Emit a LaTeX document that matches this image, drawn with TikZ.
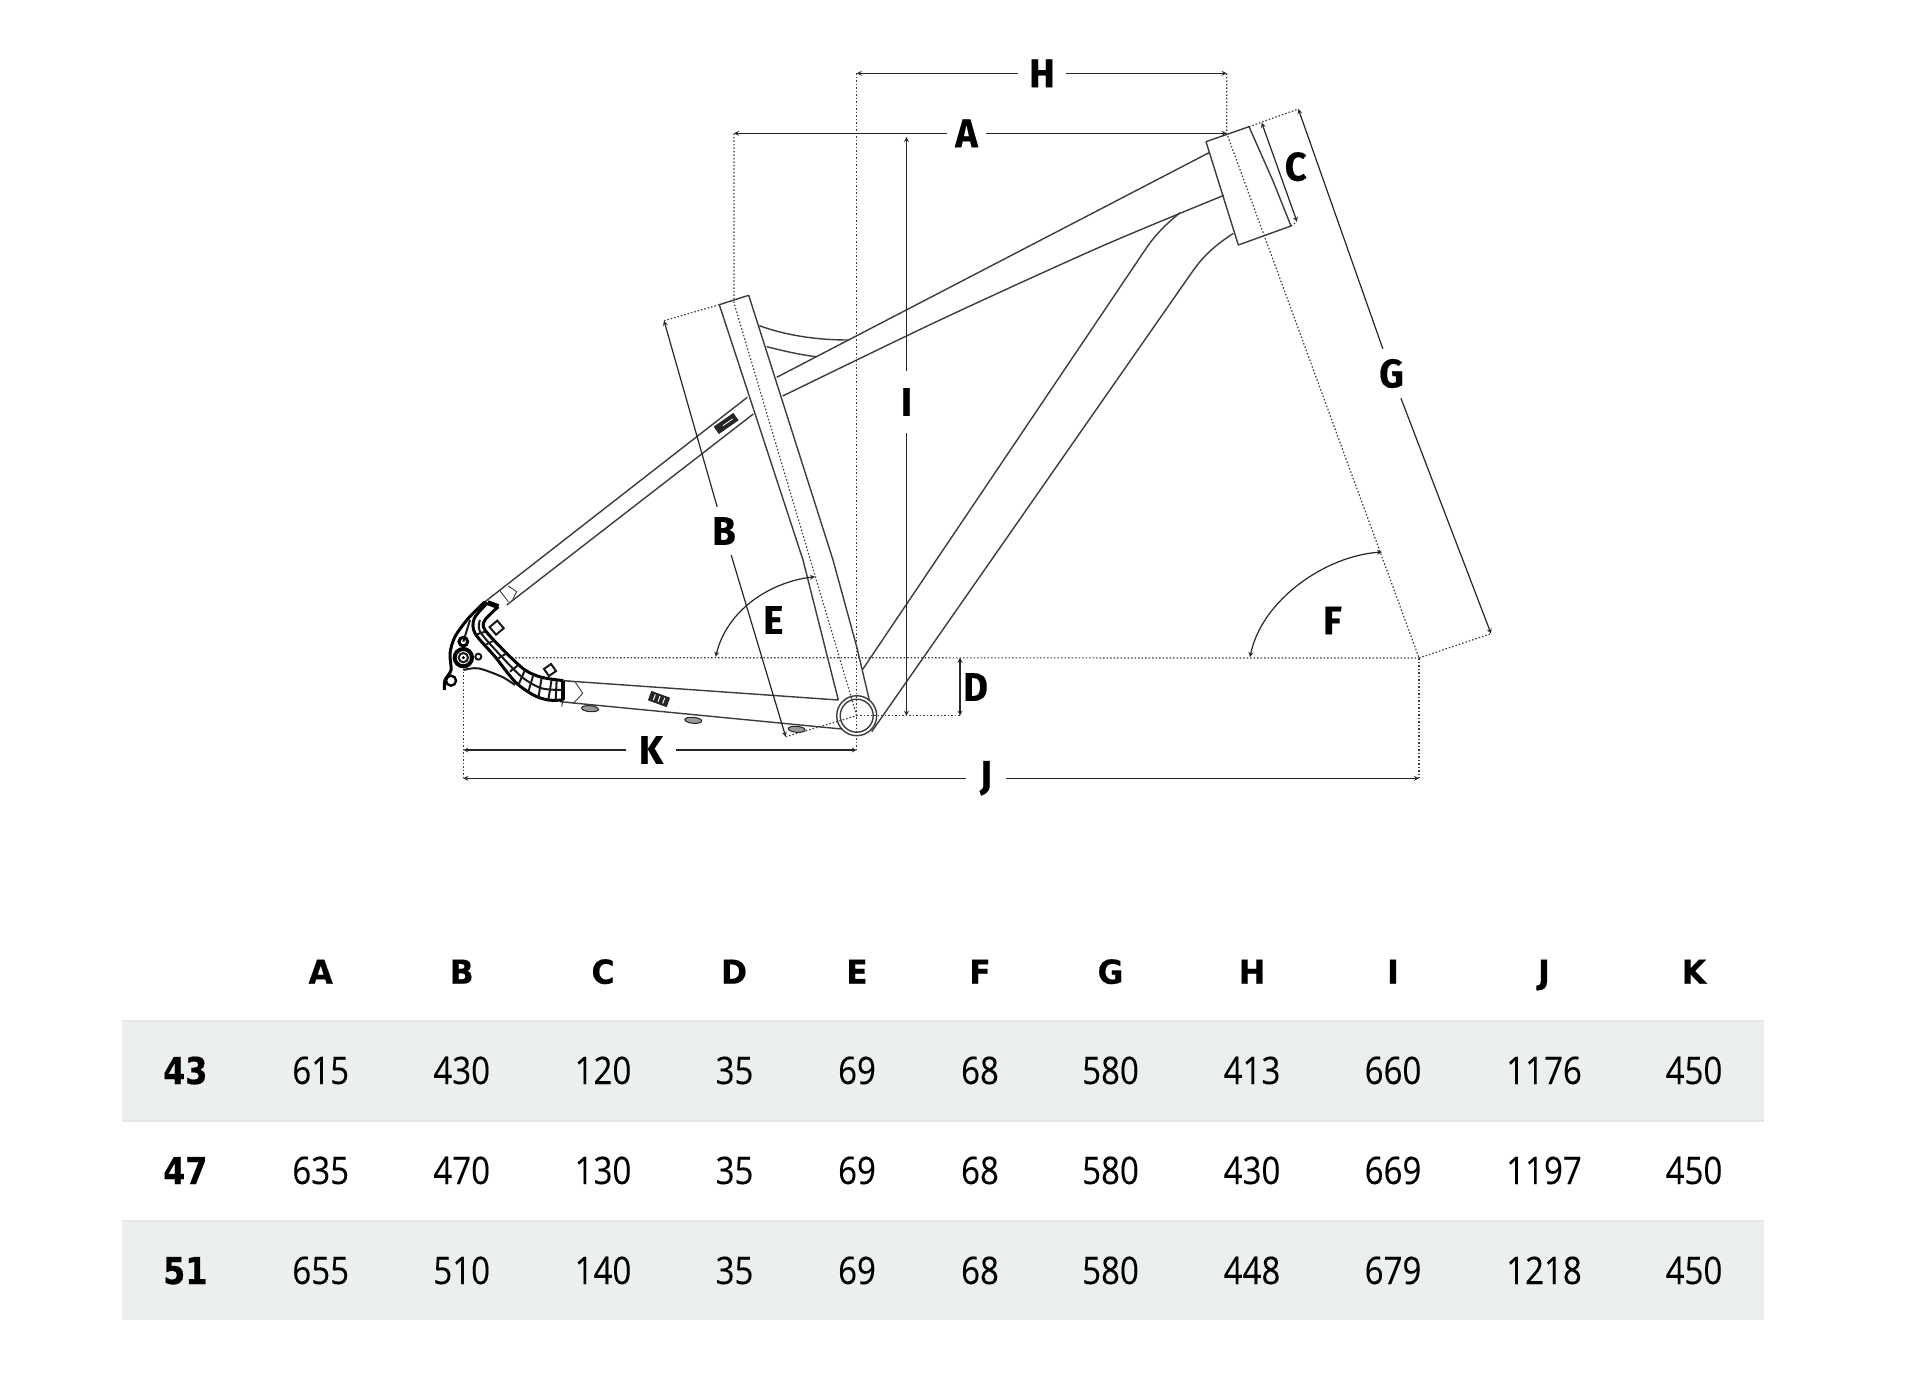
\documentclass[tikz,border=0pt]{standalone}
\usepackage{fontspec}
\newfontfamily\cellfont[FakeStretch=0.87,FakeBold=0.15]{Open Sans}
\newfontfamily\headfont[FakeStretch=0.95,FakeBold=0.4]{DejaVu Sans}
\newfontfamily\rowfont[FakeStretch=0.86,FakeBold=0.4]{DejaVu Sans}
\newfontfamily\dimfont[FakeStretch=0.95,FakeBold=0.5]{Fira Sans}
\usetikzlibrary{arrows}
\definecolor{bandFill}{HTML}{ECEFF0}
\definecolor{bandEdge}{HTML}{E5E6E7}
\definecolor{lineGrey}{HTML}{3C3C3C}
\tikzstyle{tube} = [line width=1.4pt, draw=lineGrey, line join=round]
\tikzstyle{hard} = [line width=3pt, draw=black]
\tikzstyle{mid} = [line width=2pt, draw=black!90]
\tikzstyle{fine} = [line width=0.9pt, draw=lineGrey]
\tikzstyle{dimDots} = [line width=1.2pt, draw=lineGrey, dash pattern=on 1.5pt off 2pt]
\tikzstyle{arrow} = [line width=1.2pt, draw=black!85, ->, >=stealth]
\tikzstyle{bothArrow} = [line width=1.2pt, draw=black!85, <->, >=stealth]
\tikzstyle{dimLabel} = [font=\dimfont\bfseries\fontsize{40}{40}\selectfont, inner xsep=8pt, inner ysep=10pt]
\tikzstyle{cell} = [anchor=base, inner sep=0pt, font=\cellfont\fontsize{38}{40}\selectfont]
\tikzstyle{headCell} = [anchor=base, inner sep=0pt, font=\headfont\bfseries\fontsize{33}{36}\selectfont]
\tikzstyle{rowCell} = [anchor=base, inner sep=0pt, font=\rowfont\bfseries\fontsize{37}{40}\selectfont]
\tikzstyle{band} = [fill=bandFill]
\tikzstyle{bandLine} = [line width=2pt, draw=bandEdge]
\tikzstyle{boss} = [line width=1pt, draw=black!85, fill=black!40]
\tikzstyle{badge} = [fill=black!85]
\tikzstyle{badgeMark} = [line width=1pt, draw=white]
\begin{document}
\begin{tikzpicture}[x=1pt, y=-1pt]
\useasboundingbox (0,0) rectangle (1918,1388);

% Table bands
\fill [band] (122,1020) rectangle (1764,1121.7);
\fill [band] (122,1220) rectangle (1764,1320);
\draw [bandLine] (122,1021) -- (1764,1021);
\draw [bandLine] (122,1121) -- (1764,1121);
\draw [bandLine] (122,1221) -- (1764,1221);

% Frame - main triangle
\draw [tube] (1206,141.7) -- (1249,126.7) -- (1273,181) -- (1291,226) -- (1238.3,245) -- cycle;
\draw [tube] (1209,152.7) -- (776.7,377.3);
\draw [tube] plot [smooth] coordinates {(1224,195.3) (1100,247) (940,320) (782.7,396)};
\draw [tube] (1180,212.7) .. controls (1165,225) and (1155,235) .. (1145,250) -- (862.7,669.3);
\draw [tube] (1233.3,233.3) .. controls (1213,247) and (1203,256) .. (1190,275) -- (871.7,731.7);
\draw [tube] (719.3,304.7) -- (748.7,295.3) -- (833,560) -- (856.7,646.7) -- (869.3,700);
\draw [tube] (719.3,304.7) -- (803,560) -- (838.3,700);
\draw [tube] (759.3,325.7) .. controls (785,335) and (815,340) .. (848.3,340);
\draw [tube] (766.7,346.7) .. controls (780,350) and (800,355) .. (816.7,356.7);

% Frame - rear stays
\draw [tube] (747.3,397.3) -- (485,601.7);
\draw [tube] (753.3,414) -- (506.7,605);
\draw [tube] (563.3,680.7) -- (838.3,700);
\draw [tube] (560,701.7) -- (841.7,729);
\draw [fine] (499.3,590) -- (508.3,601.7);
\draw [fine] (508.3,586) -- (516.7,591.7) -- (512.7,599.3);
\draw [fine] (566.7,681) -- (575,681.7) -- (582.7,693.3) -- (574,702.7) -- (566,702);

% Bottle bosses and badges
\draw [boss, rotate around={-5:(590,708.7)}] (590,708.7) ellipse (8.5 and 3);
\draw [boss, rotate around={-5:(693.3,720.3)}] (693.3,720.3) ellipse (8.5 and 3);
\draw [boss, rotate around={-5:(796.7,729.3)}] (796.7,729.3) ellipse (8.5 and 3);
\fill [badge, rotate around={-20:(659,699)}] (649,694) rectangle (669,704);
\draw [badgeMark, rotate around={-20:(659,699)}] (654,696) -- (654,702);
\draw [badgeMark, rotate around={-20:(659,699)}] (659,696) -- (659,702);
\draw [badgeMark, rotate around={-20:(659,699)}] (664,696) -- (664,702);
\fill [badge, rotate around={35:(726,423.3)}] (714,419) rectangle (738,428);
\draw [badgeMark, line width=0.8pt, rotate around={35:(726,423.3)}] (722,423.5) -- (734,423.5);

% Bottom bracket
\draw [tube, fill=white] (856.7,715.7) circle (20);
\draw [tube] (856.7,715.7) circle (16.5);

% Dropout, in pixels of a 3x crop
\begin{scope}[shift={(435,590)}, x=0.3333pt, y=-0.3333pt]
\draw [hard] plot [smooth] coordinates {(28,300) (30,270) (48,240) (45,190) (60,140) (100,85) (150,35)};
\draw [hard] plot [smooth] coordinates {(190,50) (150,90) (150,120) (215,190) (270,240) (320,262) (385,272)};
\draw [hard] plot [smooth] coordinates {(158,38) (118,85) (120,130) (180,200) (240,275) (295,315) (340,330) (385,330)};
\draw [mid] plot [smooth] coordinates {(135,90) (135,125) (200,200) (262,262) (320,295) (385,300)};
\draw [mid] plot [smooth] coordinates {(85,240) (130,235) (200,260) (240,285)};
\draw [mid] (105,90) -- (85,155);
\draw [hard, line width=5pt] (158,38) -- (190,50);
\draw [hard, line width=4pt] (385,272) -- (385,330);
\draw [fine] (385,330) -- (380,350);
\draw [mid] (120,135) -- (150,125);
\draw [mid] (150,165) -- (180,150);
\draw [mid] (190,205) -- (215,190);
\draw [mid] (225,245) -- (250,225);
\draw [mid] (250,285) -- (270,240);
\draw [mid] (280,305) -- (295,255);
\draw [mid] (310,325) -- (320,262);
\draw [mid] (340,330) -- (350,268);
\draw [mid] (362,330) -- (365,270);
\draw [mid, rotate around={40:(185,113)}] (170,98) rectangle (200,128);
\draw [mid, rotate around={35:(345,240)}] (332,227) rectangle (358,253);
\draw [hard, line width=4pt, fill=white] (85,203) circle (26);
\draw [mid] (85,203) circle (14);
\fill [black] (85,203) circle (5);
\draw [hard] (85,155) circle (13);
\draw [mid] (130,200) circle (9);
\draw [hard, line width=2.4pt, fill=white] (48,272) circle (15);
\end{scope}

% Dimension coordinates
\coordinate (hLeft) at (856.7,73.3);
\coordinate (hRight) at (1226.7,73.3);
\coordinate (aLeft) at (734,133.3);
\coordinate (aRight) at (1226.7,133.3);
\coordinate (cTop) at (1261.7,122.7);
\coordinate (cBottom) at (1297,221.7);
\coordinate (cOuter) at (1298.3,109);
\coordinate (gBottom) at (1491,633.6);
\coordinate (fCorner) at (1419,658);
\coordinate (iTop) at (906.4,137);
\coordinate (iBottom) at (906.4,715.7);
\coordinate (dTop) at (960,657.7);
\coordinate (dBottom) at (960,715.7);
\coordinate (bTop) at (664,320.7);
\coordinate (bBottom) at (785.7,736.7);
\coordinate (seatTop) at (734,303);
\coordinate (bbCentre) at (856.7,715.7);
\coordinate (kLeft) at (463.3,750);
\coordinate (kRight) at (856.7,750);
\coordinate (jLeft) at (463.3,778.3);
\coordinate (jRight) at (1419,778.3);
\coordinate (baseLeft) at (515,657.7);
\coordinate (axleBelow) at (463.3,671.7);
\coordinate (eStart) at (715.7,656.7);
\coordinate (eEnd) at (815,576.7);
\coordinate (fStart) at (1250,657);
\coordinate (fEnd) at (1382,552);

% Dimension labels
\node (labelA) [dimLabel] at (966.5,133.3) {A};
\node (labelB) [dimLabel] at (724,531) {B};
\node (labelC) [dimLabel] at (1295.7,166.7) {C};
\node (labelD) [dimLabel] at (975.5,687) {D};
\node (labelE) [dimLabel] at (773.3,620) {E};
\node (labelF) [dimLabel] at (1332.5,620.5) {F};
\node (labelG) [dimLabel] at (1391.5,373.5) {G};
\node (labelH) [dimLabel, inner xsep=11pt] at (1042,73.3) {H};
\node (labelI) [dimLabel, inner ysep=17pt] at (906.4,402) {I};
\node (labelJ) [dimLabel, inner xsep=14pt] at (986,778.3) {J};
\node (labelK) [dimLabel, inner xsep=13pt] at (651,750) {K};

% Dotted guides
\draw [dimDots] (baseLeft) -- (fCorner);
\draw [dimDots] (hLeft) -- (kRight);
\draw [dimDots] (aLeft) -- (seatTop) -- (bbCentre);
\draw [dimDots] (hRight) -- (aRight) -- (fCorner);
\draw [dimDots] (fCorner) -- (jRight);
\draw [dimDots] (fCorner) -- (gBottom);
\draw [dimDots] (axleBelow) -- (jLeft);
\draw [dimDots] (1249,126.7) -- (cOuter);
\draw [dimDots] (1291,226) -- (cBottom);
\draw [dimDots] (bTop) -- (719.3,304.7);
\draw [dimDots] (bBottom) -- (bbCentre);
\draw [dimDots] (bbCentre) -- (dBottom);

% Dimension arrows
\draw [arrow] (labelH) -- (hLeft);
\draw [arrow] (labelH) -- (hRight);
\draw [arrow] (labelA) -- (aLeft);
\draw [arrow] (labelA) -- (aRight);
\draw [arrow] (labelG) -- (cOuter);
\draw [arrow] (labelG) -- (gBottom);
\draw [arrow] (labelI) -- (iTop);
\draw [arrow] (labelI) -- (iBottom);
\draw [arrow] (labelB) -- (bTop);
\draw [arrow] (labelB) -- (bBottom);
\draw [arrow] (labelK) -- (kLeft);
\draw [arrow] (labelK) -- (kRight);
\draw [arrow] (labelJ) -- (jLeft);
\draw [arrow] (labelJ) -- (jRight);
\draw [bothArrow] (cTop) -- (cBottom);
\draw [bothArrow] (dTop) -- (dBottom);
\draw [bothArrow] (eStart) .. controls (727,610) and (770,582) .. (eEnd);
\draw [bothArrow] (fStart) .. controls (1262,600) and (1325,556) .. (fEnd);

% Table - header
\node (headA) [headCell] at (320.7,983.7) {A};
\node (headB) [headCell] at (461.7,983.7) {B};
\node (headC) [headCell] at (603,983.7) {C};
\node (headD) [headCell] at (734,983.7) {D};
\node (headE) [headCell] at (857,983.7) {E};
\node (headF) [headCell] at (980,983.7) {F};
\node (headG) [headCell] at (1110.5,983.7) {G};
\node (headH) [headCell] at (1252,983.7) {H};
\node (headI) [headCell] at (1393,983.7) {I};
\node (headJ) [headCell] at (1544,983.7) {J};
\node (headK) [headCell] at (1694,983.7) {K};

% Table - size 43
\node (rowA) [rowCell] at (185.3,1084) {43};
\node (aA) [cell] at (320.7,1084) {615};
\node (aB) [cell] at (461.7,1084) {430};
\node (aC) [cell] at (603,1084) {120};
\node (aD) [cell] at (734.5,1084) {35};
\node (aE) [cell] at (857,1084) {69};
\node (aF) [cell] at (980,1084) {68};
\node (aG) [cell] at (1110.5,1084) {580};
\node (aH) [cell] at (1252,1084) {413};
\node (aI) [cell] at (1393,1084) {660};
\node (aJ) [cell] at (1544,1084) {1176};
\node (aK) [cell] at (1694,1084) {450};

% Table - size 47
\node (rowB) [rowCell] at (185.3,1184) {47};
\node (bA) [cell] at (320.7,1184) {635};
\node (bB) [cell] at (461.7,1184) {470};
\node (bC) [cell] at (603,1184) {130};
\node (bD) [cell] at (734.5,1184) {35};
\node (bE) [cell] at (857,1184) {69};
\node (bF) [cell] at (980,1184) {68};
\node (bG) [cell] at (1110.5,1184) {580};
\node (bH) [cell] at (1252,1184) {430};
\node (bI) [cell] at (1393,1184) {669};
\node (bJ) [cell] at (1544,1184) {1197};
\node (bK) [cell] at (1694,1184) {450};

% Table - size 51
\node (rowC) [rowCell] at (185.3,1284) {51};
\node (cA) [cell] at (320.7,1284) {655};
\node (cB) [cell] at (461.7,1284) {510};
\node (cC) [cell] at (603,1284) {140};
\node (cD) [cell] at (734.5,1284) {35};
\node (cE) [cell] at (857,1284) {69};
\node (cF) [cell] at (980,1284) {68};
\node (cG) [cell] at (1110.5,1284) {580};
\node (cH) [cell] at (1252,1284) {448};
\node (cI) [cell] at (1393,1284) {679};
\node (cJ) [cell] at (1544,1284) {1218};
\node (cK) [cell] at (1694,1284) {450};

\end{tikzpicture}
\end{document}
